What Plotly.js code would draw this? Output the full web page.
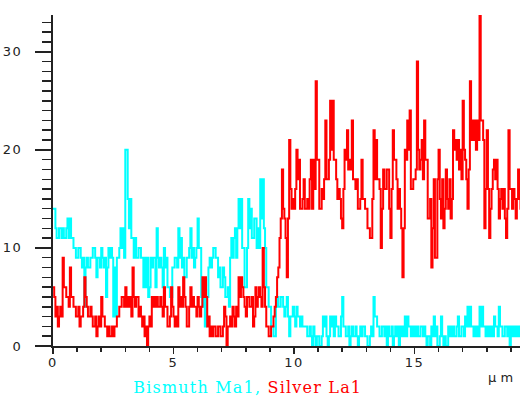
<!DOCTYPE html>
<html>
<head>
<meta charset="utf-8">
<script src="https://cdn.plot.ly/plotly-3.0.1.min.js"></script>
<style>
  html, body { margin: 0; padding: 0; background: #ffffff; }
  #chart { width: 523px; height: 396px; }
  #chart .xtick text, #chart .ytick text { letter-spacing: 1.5px; }
  #chart .annotation[data-index="0"] text { letter-spacing: 1.2px; }
</style>
</head>
<body>
<div id="chart"></div>
<script>
// Distance axis: samples start at 0 µm, one every 0.05 µm
const xStart = 0;
const xStep = 0.05;

// Bismuth Ma1 (cyan) counts
const bismuth = [
  14,14, 12,11, 11,12, 12,11, 12,11, 11,12, 13,11, 13,11, 11,10, 10,9,
  9,10, 10,9, 8,9, 4,8, 9,8, 8,9, 9,10, 10,9, 7,9, 9,8,
  10,9, 8,9, 5,8, 10,9, 10,9, 3,8, 3,9, 9,10, 12,10, 12,9,
  20,20, 15,12, 15,11, 11,9, 11,9, 9,10, 10,9, 9,6, 9,6, 9,5,
  6,9, 8,9, 9,6, 12,9, 8,9, 8,6, 10,8, 9,6, 6,5, 5,8,
  8,9, 9,8, 12,9, 11,8, 9,7, 7,9, 9,10, 12,9, 10,8, 9,10,
  13,10, 10,5, 4,6, 2,5, 5,8, 9,8, 9,10, 10,9, 9,7, 8,6,
  6,8, 7,5, 5,6, 4,9, 11,9, 11,12, 9,12, 15,12, 15,10, 10,6,
  6,10, 15,12, 14,11, 11,13, 13,10, 12,10, 17,13, 17,12, 10,6, 6,4,
  4,2, 2,1, 1,4, 5,4, 4,5, 5,4, 3,4, 5,3, 1,3, 3,4,
  3,2, 4,3, 3,2, 3,2, 2,2, 2,1, 1,2, 1,0, 2,1, 0,1,
  1,0, 0,1, 3,2, 3,1, 0,1, 3,2, 3,1, 3,2, 2,1, 1,3,
  5,2, 2,1, 1,2, 0,1, 2,1, 1,2, 1,0, 1,2, 1,2, 2,1,
  1,0, 0,1, 2,1, 5,3, 3,2, 2,1, 1,2, 2,1, 2,0, 2,1,
  1,2, 0,1, 2,1, 2,0, 2,1, 2,1, 3,1, 3,2, 2,1, 2,1,
  2,1, 2,1, 1,2, 2,1, 2,1, 0,1, 1,0, 2,1, 3,1, 2,0,
  0,1, 3,1, 0,1, 0,0, 2,1, 2,1, 2,1, 1,2, 3,1, 1,2,
  2,1, 3,2, 4,2, 4,2, 2,1, 2,1, 2,1, 4,2, 4,2, 2,1,
  2,1, 2,1, 2,1, 3,2, 2,1, 4,2, 2,1, 1,2, 2,1, 2,0,
  2,1, 2,1, 2,1, 2,1, 2,2
];

// Silver La1 (red) counts
const silver = [
  6,5, 3,4, 2,3, 4,3, 9,6, 6,5, 5,4, 8,5, 5,4, 4,3,
  3,4, 2,3, 3,4, 7,5, 4,3, 3,4, 3,2, 2,3, 1,2, 3,2,
  5,3, 3,2, 2,1, 2,1, 1,2, 1,2, 2,3, 3,4, 4,5, 5,4,
  6,4, 5,4, 5,3, 8,5, 4,5, 5,3, 4,3, 2,3, 1,2, 0,2,
  3,2, 5,4, 5,4, 5,4, 4,5, 4,3, 6,4, 4,2, 2,3, 6,4,
  3,2, 3,2, 6,4, 5,4, 7,5, 4,2, 2,4, 6,4, 5,4, 4,3,
  5,4, 3,4, 7,5, 7,5, 2,3, 1,2, 1,2, 2,1, 1,2, 2,1,
  1,2, 4,3, 0,2, 2,3, 2,4, 3,2, 4,3, 7,5, 7,6, 5,4,
  3,5, 5,4, 4,5, 2,3, 6,4, 5,6, 5,4, 10,6, 4,2, 2,1,
  1,2, 2,3, 4,5, 7,8, 11,13, 18,14, 13,11, 7,13, 21,16, 14,15,
  14,16, 20,17, 19,14, 14,15, 17,14, 14,15, 14,17, 19,14, 19,16, 27,19,
  19,14, 14,16, 15,17, 23,17, 17,19, 25,20, 25,19, 19,17, 15,16, 15,13,
  12,16, 20,19, 22,18, 19,18, 23,17, 17,16, 17,14, 14,15, 19,15, 15,14,
  14,12, 12,11, 11,15, 22,17, 21,17, 17,16, 10,14, 18,16, 16,18, 18,14,
  11,16, 22,19, 19,17, 14,16, 14,12, 7,12, 20,19, 23,20, 24,16, 16,17,
  17,18, 29,20, 18,19, 21,17, 23,19, 19,13, 13,15, 8,12, 17,9, 9,17,
  20,15, 13,17, 12,14, 18,15, 14,17, 13,15, 22,20, 21,19, 21,18, 20,17,
  25,20, 19,17, 14,18, 27,21, 23,21, 23,20, 23,21, 34,23, 23,21, 12,16,
  22,16, 11,14, 16,18, 19,17, 19,16, 13,15, 16,14, 16,13, 11,14, 22,16,
  16,14, 16,15, 13,15, 18,15, 14,14
];

const xTickVals = [0, 5, 10, 15];
const xTickText = ["0", "5", "10", "15"];
const yTickVals = [0, 10, 20, 30];
const yTickText = ["0", "10", "20", "30"];

const seriesNames = ["Bismuth Ma1", "Silver La1"];
const unitLabel = "\u03BC m";

const traces = [
  {
    type: "scatter", mode: "lines", name: seriesNames[0],
    x0: xStart, dx: xStep, y: bismuth,
    line: { color: "#00FFFF", width: 2, shape: "hv" },
    hoverinfo: "skip"
  },
  {
    type: "scatter", mode: "lines", name: seriesNames[1],
    x0: xStart, dx: xStep, y: silver,
    line: { color: "#FF0000", width: 2, shape: "hv" },
    hoverinfo: "skip"
  }
];

const layout = {
  width: 523, height: 396,
  margin: { l: 53, r: 3, t: 15, b: 50, pad: 0 },
  paper_bgcolor: "#ffffff", plot_bgcolor: "#ffffff",
  showlegend: false,
  font: { family: "DejaVu Sans, sans-serif", size: 13, color: "#222222" },
  xaxis: {
    range: [0, 19.38], showgrid: false, zeroline: false,
    showline: true, linecolor: "#222222", linewidth: 2,
    ticks: "outside", ticklen: 6, tickwidth: 1.5, tickcolor: "#222222",
    ticklabelstandoff: -3,
    tickmode: "array", tickvals: xTickVals, ticktext: xTickText,
    minor: { dtick: 1, ticks: "outside", ticklen: 4, tickwidth: 1.5, tickcolor: "#222222" },
    tickfont: { family: "DejaVu Sans, sans-serif", size: 13, color: "#222222" }
  },
  yaxis: {
    range: [0, 33.75], showgrid: false, zeroline: false,
    showline: true, linecolor: "#222222", linewidth: 2,
    ticks: "outside", ticklen: 16, tickwidth: 1.5, tickcolor: "#222222",
    ticklabelstandoff: 10,
    tickmode: "array", tickvals: yTickVals, ticktext: yTickText,
    minor: { dtick: 1, ticks: "outside", ticklen: 9, tickwidth: 1.5, tickcolor: "#222222" },
    tickfont: { family: "DejaVu Sans, sans-serif", size: 13, color: "#222222" }
  },
  annotations: [
    {
      xref: "paper", yref: "paper", x: 0.4165, y: -0.126,
      xanchor: "center", yanchor: "middle", showarrow: false,
      text: '<span style="color:#00FFFF">' + seriesNames[0] + ',</span> <span style="color:#FF0000">' + seriesNames[1] + '</span>',
      font: { family: "DejaVu Serif, serif", size: 16, color: "#00FFFF" }
    },
    {
      xref: "paper", yref: "paper", x: 0.959, y: -0.095,
      xanchor: "center", yanchor: "middle", showarrow: false,
      text: unitLabel,
      font: { family: "DejaVu Sans, sans-serif", size: 13, color: "#222222" }
    }
  ]
};

Plotly.newPlot("chart", traces, layout, { staticPlot: true, displayModeBar: false });
</script>
</body>
</html>
